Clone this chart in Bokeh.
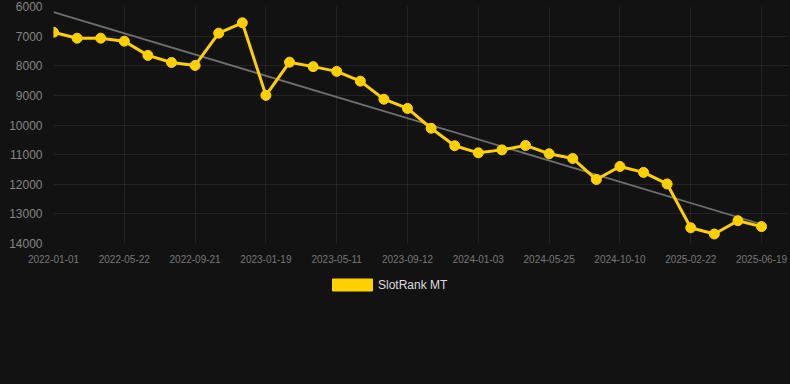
from bokeh.plotting import figure
from bokeh.layouts import column
from bokeh.models import Range1d, FixedTicker, Legend, LegendItem, ColumnDataSource
from bokeh.embed import file_html
from bokeh.resources import INLINE

# ---- data ----
tick_labels = ["2022-01-01", "2022-05-22", "2022-09-21", "2023-01-19", "2023-05-11",
               "2023-09-12", "2024-01-03", "2024-05-25", "2024-10-10", "2025-02-22",
               "2025-06-19"]
rank_values = [6870, 7070, 7070, 7170, 7650, 7890, 7990, 6900, 6550, 9000,
               7880, 8030, 8190, 8520, 9130, 9440, 10110, 10700, 10940, 10840,
               10690, 10970, 11130, 11840, 11400, 11600, 11990, 13470, 13680, 13230,
               13430]
trend_values = [6190, 13350]
series_name = "SlotRank MT"

idx = list(range(len(rank_values)))
tick_idx = list(range(0, len(rank_values), 3))

BG = "#121212"
GOLD = "#FFD000"

p = figure(width=790, height=270, output_backend="svg", toolbar_location=None,
           x_range=Range1d(0, 31.1), y_range=Range1d(14000, 6000),
           min_border_left=53, min_border_right=3, min_border_top=6, min_border_bottom=27)
p.background_fill_color = BG
p.border_fill_color = BG
p.outline_line_color = None

for ax in (p.xaxis[0], p.yaxis[0]):
    ax.axis_line_color = None
    ax.major_tick_line_color = None
    ax.minor_tick_line_color = None
    ax.major_label_text_font = "Liberation Sans"

p.yaxis[0].ticker = FixedTicker(ticks=[6000 + 1000 * i for i in range(9)])
p.yaxis[0].major_label_text_font_size = "12px"
p.yaxis[0].major_label_text_color = "#858585"
p.yaxis[0].major_label_standoff = 5

p.xaxis[0].ticker = FixedTicker(ticks=tick_idx)
p.xaxis[0].major_label_overrides = {i: lab for i, lab in zip(tick_idx, tick_labels)}
p.xaxis[0].major_label_text_font_size = "10px"
p.xaxis[0].major_label_text_color = "#777777"
p.xaxis[0].major_label_standoff = 5

p.xgrid.grid_line_color = "#ffffff"
p.xgrid.grid_line_alpha = 0.07
p.ygrid.grid_line_color = "#ffffff"
p.ygrid.grid_line_alpha = 0.07

p.line([0, len(rank_values) - 1], trend_values, line_color="#707070", line_width=1.8)

src = ColumnDataSource(dict(x=idx, y=rank_values))
p.line("x", "y", source=src, line_color=GOLD, line_width=3)
p.scatter("x", "y", source=src, size=10, fill_color=GOLD, line_color=GOLD)

# legend strip below the chart
lf = figure(width=790, height=114, output_backend="svg", toolbar_location=None,
            x_range=Range1d(0, 1), y_range=Range1d(0, 1),
            min_border=0, x_axis_location=None, y_axis_location=None)
lf.background_fill_color = BG
lf.border_fill_color = BG
lf.outline_line_color = None
lf.grid.visible = False
swatch = lf.quad(left=[5], right=[6], top=[6], bottom=[5], fill_color=GOLD, line_color=GOLD)
legend = Legend(items=[LegendItem(label=series_name, renderers=[swatch])],
                location=(274, 92), orientation="horizontal",
                background_fill_alpha=0, border_line_color=None,
                glyph_width=50, glyph_height=15, label_standoff=1,
                label_text_color="#dddddd", label_text_font="Liberation Sans",
                label_text_font_size="12px", padding=4, margin=0)
lf.add_layout(legend, "center")

layout = column(p, lf, spacing=0)
layout.styles = {"margin-left": "0px", "margin-top": "0px", "background-color": BG}

open("out.html", "w").write(file_html(layout, INLINE))
